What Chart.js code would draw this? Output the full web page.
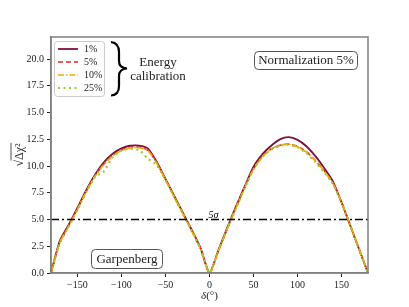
<!DOCTYPE html>
<html>
<head>
<meta charset="utf-8">
<style>
  html, body { margin: 0; padding: 0; background: #fff; }
</style>
<script src="https://cdn.jsdelivr.net/npm/chart.js@4/dist/chart.umd.min.js"></script>
</head>
<body>
<canvas id="myChart" width="409" height="307"></canvas>
<script>
// angle delta in degrees
const angles = [-180, -170, -160, -150, -140, -130, -120, -110, -100, -90, -80, -70, -60, -50, -40, -30, -20, -10, 0,
                10, 20, 30, 40, 50, 60, 70, 80, 90, 100, 110, 120, 130, 140, 150, 160, 170, 180];

// sqrt(delta chi^2) for each energy calibration uncertainty
const calib1 = [0, 3.0, 4.5, 6.1, 7.75, 9.2, 10.35, 11.15, 11.65, 11.9, 11.92, 11.65, 10.4, 8.8, 7.2, 5.6, 4.0, 2.3, 0,
                2.1, 4.2, 6.2, 8.1, 9.95, 11.1, 11.9, 12.5, 12.7, 12.45, 11.85, 10.95, 9.85, 8.6, 6.6, 4.4, 2.2, 0];
const calib5 = [0, 2.9, 4.4, 6.0, 7.65, 9.1, 10.2, 11.0, 11.5, 11.75, 11.78, 11.5, 10.35, 8.75, 7.15, 5.55, 3.95, 2.25, 0,
                2.05, 4.1, 6.1, 8.0, 9.75, 10.9, 11.6, 11.95, 12.05, 11.85, 11.35, 10.55, 9.6, 8.45, 6.6, 4.4, 2.2, 0];
const calib10 = [0, 2.85, 4.35, 5.95, 7.6, 9.05, 10.15, 10.95, 11.45, 11.7, 11.72, 11.45, 10.3, 8.7, 7.1, 5.5, 3.9, 2.2, 0,
                 2.05, 4.1, 6.05, 7.95, 9.7, 10.85, 11.6, 11.95, 12.05, 11.8, 11.3, 10.5, 9.55, 8.4, 6.6, 4.4, 2.2, 0];
const calib25 = [0, 2.8, 4.3, 5.9, 7.55, 9.0, 9.5, 10.85, 11.45, 11.6, 11.5, 10.7, 10.1, 8.7, 7.1, 5.5, 3.9, 2.2, 0,
                 2.05, 4.1, 6.05, 7.95, 9.7, 10.85, 11.55, 11.9, 12.0, 11.75, 11.2, 10.4, 9.45, 8.35, 6.6, 4.4, 2.2, 0];

const seriesLabels = ['1%', '5%', '10%', '25%'];
const xTicks = [-150, -100, -50, 0, 50, 100, 150];
const yTicks = [0, 2.5, 5, 7.5, 10, 12.5, 15, 17.5, 20];
const sigmaLevel = 5;

const serif = '"Liberation Serif", "DejaVu Serif", serif';

const toPoints = (ys) => ys.map((y, i) => ({ x: angles[i], y: y }));

function line(label, ys, color, dash, width, order) {
    return {
        label: label,
        data: toPoints(ys),
        borderColor: color,
        borderDash: dash,
        borderWidth: width,
        pointRadius: 0,
        tension: 0.2,
        fill: false,
        order: order,
    };
}

const datasets = [
    line(seriesLabels[0], calib1, '#7a1141', [], 1.8, 4),
    line(seriesLabels[1], calib5, '#d8262b', [5, 3], 1.6, 3),
    line(seriesLabels[2], calib10, '#ffa500', [6, 2, 1.5, 2], 1.6, 2),
    line(seriesLabels[3], calib25, '#9acd32', [2, 3.5], 2.2, 1),
    {
        label: '5sigma',
        data: [{ x: -180, y: sigmaLevel }, { x: 180, y: sigmaLevel }],
        borderColor: '#000',
        borderDash: [8, 3, 2, 3],
        borderWidth: 1.5,
        pointRadius: 0,
        order: 0,
    },
];

function roundBox(ctx, x, y, w, h, r) {
    ctx.beginPath();
    ctx.roundRect(x, y, w, h, r);
}

// frame, legend and text boxes drawn on top
const extras = {
    id: 'extras',
    afterDatasetsDraw(chart) {
        const ctx = chart.ctx;
        const a = chart.chartArea;
        const xs = chart.scales.x, ys = chart.scales.y;
        ctx.save();

        // spines
        ctx.strokeStyle = '#808080';
        ctx.lineWidth = 1.5;
        ctx.strokeRect(a.left, a.top, a.right - a.left, a.bottom - a.top);

        // 5 sigma label
        ctx.fillStyle = '#000';
        ctx.font = 'italic 10px ' + serif;
        ctx.textAlign = 'left';
        ctx.textBaseline = 'alphabetic';
        ctx.fillText('5σ', xs.getPixelForValue(-1), ys.getPixelForValue(sigmaLevel) - 2);

        // legend
        ctx.fillStyle = 'rgba(255,255,255,0.85)';
        ctx.strokeStyle = '#cccccc';
        ctx.lineWidth = 1;
        roundBox(ctx, a.left + 3.5, a.top + 4.5, 50, 55, 3);
        ctx.fill();
        ctx.stroke();
        ctx.font = '10px ' + serif;
        ctx.textBaseline = 'middle';
        for (let i = 0; i < 4; i++) {
            const ds = chart.data.datasets[i];
            const yy = a.top + 12 + i * 13;
            ctx.strokeStyle = ds.borderColor;
            ctx.lineWidth = ds.borderWidth;
            ctx.setLineDash(ds.borderDash);
            ctx.beginPath();
            ctx.moveTo(a.left + 7, yy);
            ctx.lineTo(a.left + 27, yy);
            ctx.stroke();
            ctx.setLineDash([]);
            ctx.fillStyle = '#222';
            ctx.fillText(ds.label, a.left + 33, yy + 0.5);
        }

        // brace
        ctx.strokeStyle = '#000';
        ctx.lineWidth = 2.2;
        ctx.beginPath();
        ctx.moveTo(111, 42);
        ctx.quadraticCurveTo(119, 43, 119, 52);
        ctx.lineTo(119, 61);
        ctx.quadraticCurveTo(119, 68, 127, 68.5);
        ctx.quadraticCurveTo(119, 69, 119, 76);
        ctx.lineTo(119, 86);
        ctx.quadraticCurveTo(119, 95, 111, 95.5);
        ctx.stroke();

        ctx.fillStyle = '#222';
        ctx.font = '13px ' + serif;
        ctx.textAlign = 'center';
        ctx.fillText('Energy', 158, 63);
        ctx.fillText('calibration', 158, 77);

        // Normalization box
        ctx.strokeStyle = '#555';
        ctx.lineWidth = 1;
        roundBox(ctx, 254.5, 51.5, 103, 18, 4);
        ctx.fillStyle = '#fff';
        ctx.fill();
        ctx.stroke();
        ctx.fillStyle = '#222';
        ctx.fillText('Normalization 5%', 306, 61);

        // Garpenberg box
        roundBox(ctx, 91.5, 249.5, 71, 19, 4);
        ctx.fillStyle = '#fff';
        ctx.fill();
        ctx.stroke();
        ctx.fillStyle = '#222';
        ctx.fillText('Garpenberg', 127, 259.5);

        // y axis title: sqrt(delta chi^2)
        ctx.save();
        ctx.translate(19, (a.top + a.bottom) / 2);
        ctx.rotate(-Math.PI / 2);
        ctx.font = '12px ' + serif;
        ctx.textAlign = 'left';
        ctx.textBaseline = 'alphabetic';
        const rad = '√', body = 'Δχ²';
        const wr = ctx.measureText(rad).width, wb = ctx.measureText(body).width;
        const x0 = -(wr + wb) / 2;
        ctx.fillText(rad, x0, 4);
        ctx.fillText(body, x0 + wr, 4);
        ctx.lineWidth = 0.8;
        ctx.strokeStyle = '#222';
        ctx.beginPath();
        ctx.moveTo(x0 + wr - 0.5, -8);
        ctx.lineTo(x0 + wr + wb + 0.5, -8);
        ctx.stroke();
        ctx.restore();

        // x axis title
        ctx.textBaseline = 'middle';
        ctx.textAlign = 'left';
        ctx.font = 'italic 11px ' + serif;
        const wd = ctx.measureText('δ').width;
        ctx.font = '11px ' + serif;
        const wp = ctx.measureText('(°)').width;
        const cx = (a.left + a.right) / 2 - (wd + wp) / 2;
        ctx.font = 'italic 11px ' + serif;
        ctx.fillText('δ', cx, 296);
        ctx.font = '11px ' + serif;
        ctx.fillText('(°)', cx + wd, 296);

        ctx.restore();
    }
};

new Chart(document.getElementById('myChart'), {
    type: 'line',
    data: { datasets: datasets },
    options: {
        responsive: false,
        animation: false,
        devicePixelRatio: 1,
        layout: { padding: { left: 0, right: 41, top: 37, bottom: 0 } },
        plugins: { legend: { display: false }, tooltip: { enabled: false } },
        scales: {
            x: {
                type: 'linear',
                min: -180,
                max: 180,
                afterBuildTicks: (s) => { s.ticks = xTicks.map(v => ({ value: v })); },
                afterFit: (s) => { s.height = 34; },
                ticks: {
                    color: '#222',
                    padding: 2,
                    maxRotation: 0,
                    font: { family: serif, size: 10 },
                    callback: (v) => (v < 0 ? '−' + Math.abs(v) : String(v)),
                },
                grid: { drawOnChartArea: false, tickLength: 4, tickColor: '#222' },
                border: { color: '#808080', width: 1.5 },
            },
            y: {
                min: 0,
                max: 22.07,
                afterBuildTicks: (s) => { s.ticks = yTicks.map(v => ({ value: v })); },
                afterFit: (s) => { s.width = 51; },
                ticks: {
                    color: '#222',
                    padding: 3,
                    font: { family: serif, size: 10 },
                    callback: (v) => v.toFixed(1),
                },
                grid: { drawOnChartArea: false, tickLength: 4, tickColor: '#222' },
                border: { color: '#808080', width: 1.5 },
            }
        }
    },
    plugins: [extras]
});
</script>
</body>
</html>
